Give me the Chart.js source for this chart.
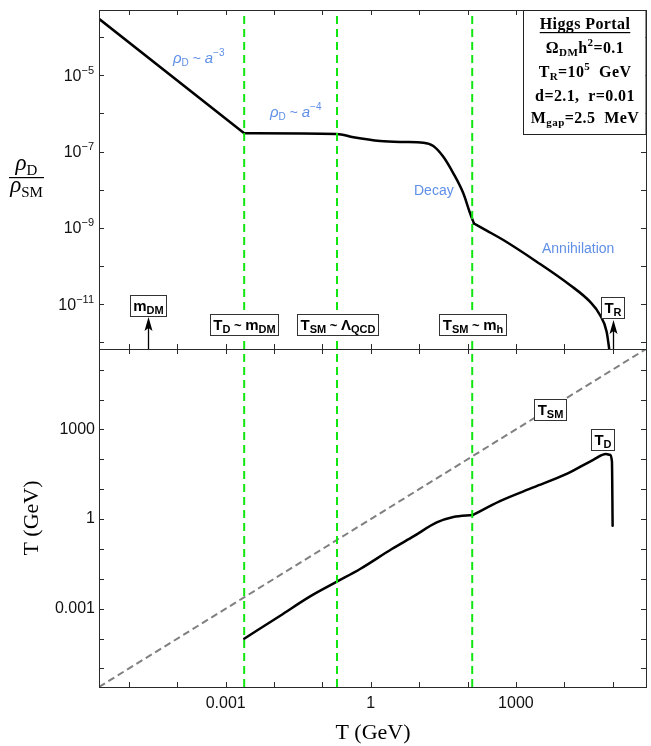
<!DOCTYPE html>
<html><head><meta charset="utf-8">
<script src="https://cdn.jsdelivr.net/npm/chart.js@4"></script>
<style>
html,body{margin:0;padding:0;background:#fff;}
#wrap{position:relative;width:651px;height:746px;background:#fff;}
canvas{position:absolute;left:0;top:0;}
</style></head><body>
<div id="wrap"><canvas id="cTop" width="651" height="746"></canvas><canvas id="cBot" width="651" height="746"></canvas></div>
<script>
// ---------------- data ----------------
const tRange = [2.4e-6, 4.9e5];            // T (GeV) axis range, both panels
const ratioRange = [6.75e-13, 5.14e-4];     // rho_D / rho_SM axis range
const ratioT   = [2.47e-6, 2.41e-3, 0.199, 0.437, 1.56, 4.72, 12.2, 19.6, 31.6, 50.9, 81.8, 113, 136, 249, 550, 2690, 1.31e4, 3.40e4, 5.47e4, 7.52e4, 8.51e4, 9.02e4];
const ratioVal = [2.93e-4, 3.02e-7, 2.90e-7, 2.38e-7, 1.90e-7, 1.79e-7, 1.71e-7, 1.41e-7, 7.36e-8, 2.71e-8, 8.11e-9, 2.43e-9, 1.31e-9, 8.53e-10, 4.84e-10, 1.31e-10, 3.21e-11, 1.17e-11, 5.26e-12, 1.92e-12, 6.64e-13, 3.47e-13];
const ratioKinks = [1, 12];                 // indices where the curve has a corner
const tdT   = [2.41e-3, 1.34e-2, 5.57e-2, 0.199, 0.601, 2.72, 7.59, 23.1, 50.9, 128, 469, 2290, 1.12e4, 3.97e4, 7.28e4, 8.79e4, 9.68e4, 1.0e5];
const tdVal = [9.93e-5, 5.83e-4, 2.58e-3, 8.0e-3, 2.13e-2, 9.93e-2, 0.262, 0.769, 1.17, 1.36, 3.98, 11.4, 32.2, 96.2, 150, 141, 84.3, 0.597];
const tdKinks = [9];
const tsmT   = [2.4e-6, 4.9e5];
const tsmVal = [2.4e-6, 4.9e5];
const markerT = [2.41e-3, 0.2, 125];        // T_D~m_DM, T_SM~Lambda_QCD, T_SM~m_h
const arrowT  = [2.5e-5, 1e5];              // m_DM, T_R
const xTickExp   = [-5,-4,-3,-2,-1,0,1,2,3,4,5];
const xTickText  = {'-3':'0.001','0':'1','3':'1000'};
const topTickExp = [-12,-11,-10,-9,-8,-7,-6,-5,-4];
const topTickLabeled = [-11,-9,-7,-5];
const botTickExp = [-5,-4,-3,-2,-1,0,1,2,3,4,5];
const botTickText = {'-3':'0.001','0':'1','3':'1000'};

// ---------------- styles ----------------
const SANS = '"Liberation Sans", Arial, sans-serif';
const SERIF = '"Liberation Serif", "Times New Roman", serif';
const GREEN = '#11e611';
const BLUE = '#5f8fe6';
const FRAME = '#2a2a2a';

function measure(ctx, parts, family, weight){
  let w = 0;
  for (const p of parts){ ctx.font = (p.i?'italic ':'') + (weight||'') + ' ' + p.s + 'px ' + family; p.w = ctx.measureText(p.t).width; w += p.w; }
  return w;
}
function rich(ctx, parts, x, y, align, family, weight, color){
  const w = measure(ctx, parts, family, weight);
  let cx = align==='center' ? x - w/2 : (align==='right' ? x - w : x);
  ctx.textAlign='left'; ctx.textBaseline='alphabetic'; ctx.fillStyle = color || '#000';
  for (const p of parts){ ctx.font = (p.i?'italic ':'') + (weight||'') + ' ' + p.s + 'px ' + family; ctx.fillText(p.t, cx, y + (p.dy||0)); cx += p.w; }
  return w;
}
function boxLabel(ctx, parts, cx, cy){
  const w = measure(ctx, parts, SANS, 'bold');
  const pad = 3, h = 21;
  const x0 = Math.round(cx - w/2 - pad) + 0.5, y0 = Math.round(cy - h/2) + 0.5;
  const bw = Math.round(w + 2*pad);
  ctx.fillStyle='#fff'; ctx.fillRect(x0, y0, bw, h);
  ctx.strokeStyle='#333'; ctx.lineWidth=1; ctx.setLineDash([]); ctx.strokeRect(x0, y0, bw, h);
  rich(ctx, parts, x0 + bw/2, cy + 5.5, 'center', SANS, 'bold', '#000');
}
function arrowUp(ctx, x, yBase, yTip){
  ctx.strokeStyle='#000'; ctx.fillStyle='#000'; ctx.lineWidth=1.3; ctx.setLineDash([]);
  ctx.beginPath(); ctx.moveTo(x, yBase); ctx.lineTo(x, yTip + 10); ctx.stroke();
  ctx.beginPath(); ctx.moveTo(x, yTip); ctx.lineTo(x - 4, yTip + 14); ctx.lineTo(x, yTip + 11); ctx.lineTo(x + 4, yTip + 14); ctx.closePath(); ctx.fill();
}
function frameAndTicks(chart, yExp){
  const ctx = chart.ctx, a = chart.chartArea, sx = chart.scales.x, sy = chart.scales.y;
  ctx.save(); ctx.setLineDash([]);
  ctx.strokeStyle = FRAME; ctx.lineWidth = 1;
  ctx.strokeRect(Math.round(a.left)+0.5, Math.round(a.top)+0.5, Math.round(a.right-a.left), Math.round(a.bottom-a.top));
  ctx.beginPath();
  for (const e of xTickExp){
    const px = Math.round(sx.getPixelForValue(Math.pow(10,e))) + 0.5;
    ctx.moveTo(px, a.top); ctx.lineTo(px, a.top + 5);
    ctx.moveTo(px, a.bottom); ctx.lineTo(px, a.bottom - 5);
  }
  for (const e of yExp){
    const py = Math.round(sy.getPixelForValue(Math.pow(10,e))) + 0.5;
    ctx.moveTo(a.left, py); ctx.lineTo(a.left + 5, py);
    ctx.moveTo(a.right, py); ctx.lineTo(a.right - 5, py);
  }
  ctx.stroke();
  ctx.restore();
}
function decadeTicks(exps){ return function(s){ s.ticks = exps.map(e => ({value: Math.pow(10, e)})); }; }
function lineSet(xs, ys, color, width, dash, order, smooth){
  return {data: xs.map((t,i)=>({x:t, y:ys[i]})), borderColor: color, borderWidth: width, borderDash: dash || [],
          pointRadius: 0, tension: smooth ? 0.4 : 0, cubicInterpolationMode: smooth ? 'monotone' : 'default',
          borderJoinStyle: 'round', borderCapStyle: dash && dash.length ? 'butt' : 'round', fill:false, order: order};
}
// split a curve at its corners so each smooth piece is drawn by its own dataset
function curvePieces(xs, ys, kinks, color, width, order){
  const cuts = [0, ...kinks, xs.length - 1], out = [];
  for (let k = 0; k < cuts.length - 1; k++){
    const a = cuts[k], b = cuts[k+1] + 1;
    out.push(lineSet(xs.slice(a, b), ys.slice(a, b), color, width, [], order, b - a > 2));
  }
  return out;
}

// ---------------- top panel ----------------
const topDecor = {
  id:'topDecor',
  afterDatasetsDraw(chart){
    const ctx = chart.ctx, sx = chart.scales.x, sy = chart.scales.y, a = chart.chartArea;
    frameAndTicks(chart, topTickExp);
    ctx.save();
    for (const e of topTickLabeled){
      const py = sy.getPixelForValue(Math.pow(10, e));
      rich(ctx, [{t:'10', s:16}, {t:'\u2212' + Math.abs(e), s:11, dy:-7}], 94, py + 5.5, 'right', SANS, '', '#111');
    }
    rich(ctx, [{t:'\u03C1', s:23, i:true}, {t:'D', s:15, dy:5}], 26.5, 170, 'center', SERIF, '', '#000');
    ctx.fillStyle='#000'; ctx.fillRect(9, 177, 35, 1.2);
    rich(ctx, [{t:'\u03C1', s:23, i:true}, {t:'SM', s:15, dy:5}], 26.5, 192, 'center', SERIF, '', '#000');
    rich(ctx, [{t:'\u03C1', s:15, i:true}, {t:'D', s:10, dy:3}, {t:' ~ ', s:14}, {t:'a', s:15, i:true}, {t:'\u22123', s:10, dy:-7}], 173, 63, 'left', SANS, '', BLUE);
    rich(ctx, [{t:'\u03C1', s:15, i:true}, {t:'D', s:10, dy:3}, {t:' ~ ', s:14}, {t:'a', s:15, i:true}, {t:'\u22124', s:10, dy:-7}], 270, 117, 'left', SANS, '', BLUE);
    rich(ctx, [{t:'Decay', s:14}], 414, 195, 'left', SANS, '', BLUE);
    rich(ctx, [{t:'Annihilation', s:14}], 542, 253, 'left', SANS, '', BLUE);
    arrowUp(ctx, Math.round(sx.getPixelForValue(arrowT[0])) + 0.5, a.bottom, 317);
    arrowUp(ctx, Math.round(sx.getPixelForValue(arrowT[1])) + 0.5, a.bottom, 320);
    boxLabel(ctx, [{t:'m', s:15}, {t:'DM', s:11, dy:3}], sx.getPixelForValue(arrowT[0]), 305);
    boxLabel(ctx, [{t:'T', s:15}, {t:'R', s:11, dy:3}], sx.getPixelForValue(arrowT[1]), 307.5);
    boxLabel(ctx, [{t:'T', s:15}, {t:'D', s:11, dy:3}, {t:' ~ ', s:13}, {t:'m', s:15}, {t:'DM', s:11, dy:3}], sx.getPixelForValue(markerT[0]), 324.5);
    boxLabel(ctx, [{t:'T', s:15}, {t:'SM', s:11, dy:3}, {t:' ~ ', s:13}, {t:'\u039B', s:15}, {t:'QCD', s:11, dy:3}], sx.getPixelForValue(markerT[1]), 324.5);
    boxLabel(ctx, [{t:'T', s:15}, {t:'SM', s:11, dy:3}, {t:' ~ ', s:13}, {t:'m', s:15}, {t:'h', s:11, dy:3}], sx.getPixelForValue(markerT[2]), 324.5);
    ctx.fillStyle='#fff'; ctx.fillRect(523.5, 10.5, 122, 124);
    ctx.strokeStyle='#222'; ctx.lineWidth=1; ctx.setLineDash([]); ctx.strokeRect(523.5, 10.5, 122.5, 124);
    ctx.letterSpacing = '0.4px';
    const cxL = 585;
    const wH = rich(ctx, [{t:'Higgs Portal', s:16}], cxL, 29, 'center', SERIF, 'bold', '#000');
    ctx.fillStyle='#000'; ctx.fillRect(cxL - wH/2, 32, wH, 1.2);
    rich(ctx, [{t:'\u03A9', s:16}, {t:'DM', s:11, dy:3}, {t:'h', s:16}, {t:'2', s:11, dy:-7}, {t:'=0.1', s:16}], cxL, 53, 'center', SERIF, 'bold', '#000');
    rich(ctx, [{t:'T', s:16}, {t:'R', s:11, dy:3}, {t:'=10', s:16}, {t:'5', s:11, dy:-7}, {t:'  GeV', s:16}], cxL, 77, 'center', SERIF, 'bold', '#000');
    rich(ctx, [{t:'d=2.1,  r=0.01', s:16}], cxL, 100.5, 'center', SERIF, 'bold', '#000');
    rich(ctx, [{t:'M', s:16}, {t:'gap', s:11, dy:3}, {t:'=2.5  MeV', s:16}], cxL, 122.5, 'center', SERIF, 'bold', '#000');
    ctx.letterSpacing = '0px';
    ctx.restore();
  }
};

new Chart(document.getElementById('cTop'), {
  type: 'line',
  data: { datasets: [
    ...markerT.map(t => lineSet([t, t], ratioRange, GREEN, 2, [8,5], 0, false)),
    ...curvePieces(ratioT, ratioVal, ratioKinks, '#000', 2.5, 1)
  ]},
  options: {
    responsive: false, animation: false, devicePixelRatio: 1,
    layout: { padding: { left: 0, right: 5, top: 10, bottom: 0 } },
    plugins: { legend: { display: false }, tooltip: { enabled: false } },
    scales: {
      x: { type: 'logarithmic', min: tRange[0], max: tRange[1], afterBuildTicks: decadeTicks(xTickExp),
           afterFit: s => { s.height = 397; }, ticks: { display: false }, grid: { display: false }, border: { display: false } },
      y: { type: 'logarithmic', min: ratioRange[0], max: ratioRange[1], afterBuildTicks: decadeTicks(topTickExp),
           afterFit: s => { s.width = 99; }, ticks: { display: false }, grid: { display: false }, border: { display: false } }
    }
  },
  plugins: [topDecor]
});

// ---------------- bottom panel ----------------
const botDecor = {
  id:'botDecor',
  afterDatasetsDraw(chart){
    const ctx = chart.ctx;
    frameAndTicks(chart, botTickExp);
    ctx.save();
    boxLabel(ctx, [{t:'T', s:15}, {t:'SM', s:11, dy:3}], 550, 409);
    boxLabel(ctx, [{t:'T', s:15}, {t:'D', s:11, dy:3}], 602.3, 439);
    ctx.fillStyle='#000'; ctx.font = '22px ' + SERIF; ctx.textAlign='center'; ctx.textBaseline='alphabetic';
    ctx.fillText('T (GeV)', 373, 739);
    ctx.translate(37.5, 518); ctx.rotate(-Math.PI/2);
    ctx.fillText('T (GeV)', 0, 0);
    ctx.restore();
  }
};

new Chart(document.getElementById('cBot'), {
  type: 'line',
  data: { datasets: [
    ...markerT.map(t => lineSet([t, t], tRange, GREEN, 2, [8,5], 0, false)),
    ...curvePieces(tdT, tdVal, tdKinks, '#000', 2.5, 1),
    lineSet(tsmT, tsmVal, '#808080', 2, [7,4], 2, false)
  ]},
  options: {
    responsive: false, animation: false, devicePixelRatio: 1,
    layout: { padding: { left: 0, right: 5, top: 349, bottom: 0 } },
    plugins: { legend: { display: false }, tooltip: { enabled: false } },
    scales: {
      x: { type: 'logarithmic', min: tRange[0], max: tRange[1], afterBuildTicks: decadeTicks(xTickExp),
           afterFit: s => { s.height = 59; },
           ticks: { autoSkip: false, maxRotation: 0, padding: 7, color: '#111', font: { family: SANS, size: 16 },
                    callback: v => xTickText[String(Math.round(Math.log10(v)))] || '' },
           grid: { display: false, drawTicks: false }, border: { display: false } },
      y: { type: 'logarithmic', min: tRange[0], max: tRange[1], afterBuildTicks: decadeTicks(botTickExp),
           afterFit: s => { s.width = 99; },
           ticks: { autoSkip: false, padding: 4, color: '#111', font: { family: SANS, size: 16 },
                    callback: v => botTickText[String(Math.round(Math.log10(v)))] || '' },
           grid: { display: false, drawTicks: false }, border: { display: false } }
    }
  },
  plugins: [botDecor]
});
</script>
</body></html>
